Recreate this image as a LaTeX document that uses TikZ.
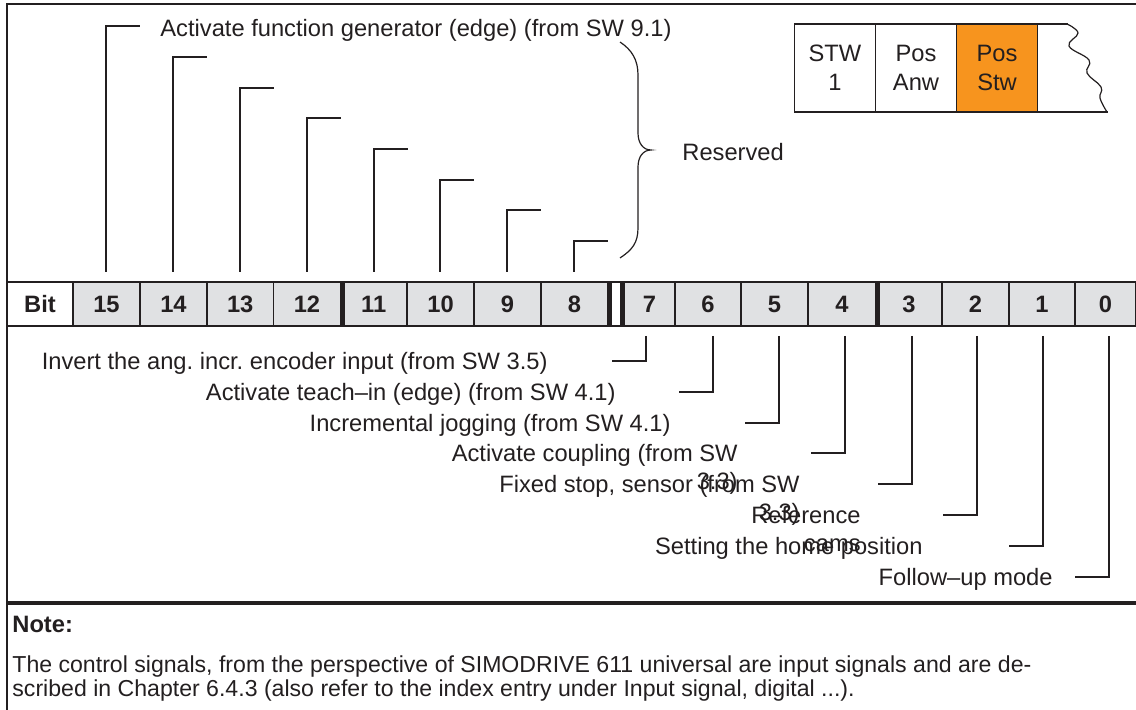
\documentclass[tikz,border=0pt]{standalone}
\usepackage{fontspec}
\setmainfont{Liberation Sans}
\usetikzlibrary{positioning}

\definecolor{ink}{RGB}{35,31,32}
\definecolor{cellgray}{RGB}{224,225,227}
\definecolor{posorange}{RGB}{247,148,30}

\begin{document}
\begin{tikzpicture}[
  x=0.5pt, y=-0.5pt,
  txt/.style={inner sep=0pt, text=ink, font=\fontsize{11.85}{14}\selectfont},
  cell/.style={draw=ink, line width=0.6pt, fill=cellgray, inner sep=0pt, outer sep=0pt,
               minimum height=22pt, text=ink, font=\fontsize{11.85}{14}\selectfont\bfseries},
  reg/.style={draw=ink, line width=0.6pt, inner sep=0pt, outer sep=0pt, align=center,
              minimum width=40.5pt, minimum height=44pt, text=ink,
              font=\fontsize{11.85}{14.5}\selectfont},
  lead/.style={draw=ink, line width=1pt},
  rule/.style={draw=ink, line width=0.7pt},
  bar/.style={draw=ink, line width=2.2pt}
]
\useasboundingbox (0,0) rectangle (1136,710);
\draw[rule] (1136,4) -- (7,4) -- (7,710);

\node[cell, fill=white, minimum width=33pt] (bit) at (40,304) {Bit};
\foreach \xa/\xb/\n in {73/140/15, 140/207/14, 207/273.5/13, 273.5/340.5/12,
    340.5/407/11, 407/474/10, 474/541/9, 541/608/8, 624/675/7, 675/741/6,
    741/808/5, 808/876/4, 876/942/3, 942/1009/2, 1009/1075/1, 1075/1136/0}
  \node[cell, minimum width={(\xb-\xa)*0.5pt}] (b\n) at ({(\xa+\xb)/2},304) {\n};
\draw[rule] (bit.north west) -- (b0.north east);
\draw[rule] (bit.south west) -- (b0.south east);
\draw[bar] ([xshift=1pt]b11.north west) -- ([xshift=1pt]b11.south west);
\draw[bar] ([xshift=1pt]b8.north east) -- ([xshift=1pt]b8.south east);
\draw[bar] ([xshift=-1.1pt]b7.north west) -- ([xshift=-1.1pt]b7.south west);
\draw[bar] ([xshift=1pt]b3.north west) -- ([xshift=1pt]b3.south west);

\foreach \n/\lx/\ty in {15/106/26, 14/173/57, 13/240/88, 12/307/118,
    11/374/149, 10/440/180, 9/507/210, 8/574/241}{
  \coordinate (c\n) at (\lx,\ty);
  \draw[lead] (c\n |- b\n.north) ++(0,-10) -- (c\n) -- ++(34,0);
}
\node[txt, anchor=base west] (fgen) at (160,37) {Activate function generator (edge) (from SW 9.1)};
\draw[ink, line width=0.6pt] (620,42) .. controls (632,50) and (638,60) .. (638,75)
  -- (638,133) .. controls (638,143) and (643,150) .. (651,150)
  .. controls (643,150) and (638,157) .. (638,167)
  -- (638,228) .. controls (638,243) and (632,250) .. (620,258);
\node[txt, anchor=base west] (res) at (682,161) {Reserved};

\node[reg] (stw) at (835,68) {STW\\1};
\node[reg, right=0pt of stw] (anw) {Pos\\Anw};
\node[reg, fill=posorange, right=0pt of anw] (pstw) {Pos\\Stw};
\draw[rule] (pstw.north east) -- ++(30,0);
\draw[rule] (pstw.south east) -- ++(70,0);
\draw[ink, line width=0.6pt] plot[smooth, tension=0.7] coordinates {(1067,24) (1078,33)
  (1069,46) (1089,60) (1087,73) (1101,87) (1100,98) (1107,112)};

\foreach \n/\lx/\ty in {7/646/361, 6/713/392, 5/779/423, 4/845/453,
    3/912/484, 2/977/515, 1/1043/546, 0/1109/577}{
  \coordinate (d\n) at (\lx,\ty);
  \draw[lead] (d\n |- b\n.south) ++(0,10) -- (d\n) -- ++(-34,0);
}
\node[txt, anchor=base east] (l7) at (548,369.5) {Invert the ang.\ incr.\ encoder input (from SW 3.5)};
\node[txt, anchor=base east] (l6) at (616,400.5) {Activate teach--in (edge) (from SW 4.1)};
\node[txt, anchor=base east] (l5) at (671,431.5) {Incremental jogging (from SW 4.1)};
\node[txt, anchor=base east, align=right] (l4) at (738,489.5) {Activate coupling (from SW\\3.3)};
\node[txt, anchor=base east, align=right] (l3) at (800,520.5) {Fixed stop, sensor (from SW\\3.3)};
\node[txt, anchor=base east, align=right] (l2) at (861,551.5) {Reference\\cams};
\node[txt, anchor=base east] (l1) at (923,554.5) {Setting the home position};
\node[txt, anchor=base east] (l0) at (1053,585.5) {Follow--up mode};

\draw[bar] (7,603) -- (1136,603);
\node[txt, font=\fontsize{11.85}{16}\selectfont\bfseries, anchor=base west] (note) at (12,633) {Note:};
\node[txt, font=\fontsize{11.55}{12}\selectfont, align=left, anchor=north west] (ntext) at (12,655)
  {The control signals, from the perspective of SIMODRIVE 611 universal are input signals and are de-\\
   scribed in Chapter 6.4.3 (also refer to the index entry under Input signal, digital ...).};
\end{tikzpicture}
\end{document}
